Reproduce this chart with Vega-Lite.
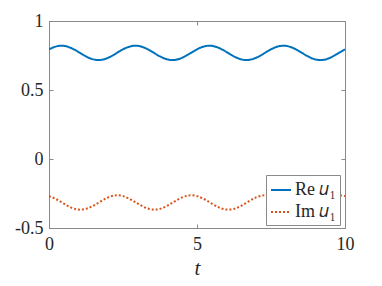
{
  "$schema": "https://vega.github.io/schema/vega-lite/v6.json",
  "autosize": "none",
  "width": 296,
  "height": 207,
  "padding": {"left": 49, "top": 21, "right": 37, "bottom": 58},
  "background": "white",
  "config": {
    "view": {"stroke": "#8a8a8a", "strokeWidth": 1},
    "axis": {
      "domainColor": "#8a8a8a",
      "tickColor": "#8a8a8a",
      "tickSize": -4,
      "grid": false,
      "labelFont": "Liberation Serif",
      "labelFontSize": 18,
      "labelColor": "#262626",
      "titleFont": "Liberation Serif",
      "titleColor": "#262626"
    }
  },
  "data": {
    "values": [
      {"t": 0, "v": 0.7946, "s": "Re 𝑢₁"}, {"t": 0.25, "v": 0.8163, "s": "Re 𝑢₁"}, {"t": 0.5, "v": 0.82, "s": "Re 𝑢₁"}, {"t": 0.75, "v": 0.8041, "s": "Re 𝑢₁"}, {"t": 1, "v": 0.7749, "s": "Re 𝑢₁"}, {"t": 1.25, "v": 0.7434, "s": "Re 𝑢₁"}, {"t": 1.5, "v": 0.7217, "s": "Re 𝑢₁"}, {"t": 1.75, "v": 0.718, "s": "Re 𝑢₁"}, {"t": 2, "v": 0.7339, "s": "Re 𝑢₁"}, {"t": 2.25, "v": 0.7631, "s": "Re 𝑢₁"},
      {"t": 2.5, "v": 0.7946, "s": "Re 𝑢₁"}, {"t": 2.75, "v": 0.8163, "s": "Re 𝑢₁"}, {"t": 3, "v": 0.82, "s": "Re 𝑢₁"}, {"t": 3.25, "v": 0.8041, "s": "Re 𝑢₁"}, {"t": 3.5, "v": 0.7749, "s": "Re 𝑢₁"}, {"t": 3.75, "v": 0.7434, "s": "Re 𝑢₁"}, {"t": 4, "v": 0.7217, "s": "Re 𝑢₁"}, {"t": 4.25, "v": 0.718, "s": "Re 𝑢₁"}, {"t": 4.5, "v": 0.7339, "s": "Re 𝑢₁"}, {"t": 4.75, "v": 0.7631, "s": "Re 𝑢₁"},
      {"t": 5, "v": 0.7946, "s": "Re 𝑢₁"}, {"t": 5.25, "v": 0.8163, "s": "Re 𝑢₁"}, {"t": 5.5, "v": 0.82, "s": "Re 𝑢₁"}, {"t": 5.75, "v": 0.8041, "s": "Re 𝑢₁"}, {"t": 6, "v": 0.7749, "s": "Re 𝑢₁"}, {"t": 6.25, "v": 0.7434, "s": "Re 𝑢₁"}, {"t": 6.5, "v": 0.7217, "s": "Re 𝑢₁"}, {"t": 6.75, "v": 0.718, "s": "Re 𝑢₁"}, {"t": 7, "v": 0.7339, "s": "Re 𝑢₁"}, {"t": 7.25, "v": 0.7631, "s": "Re 𝑢₁"},
      {"t": 7.5, "v": 0.7946, "s": "Re 𝑢₁"}, {"t": 7.75, "v": 0.8163, "s": "Re 𝑢₁"}, {"t": 8, "v": 0.82, "s": "Re 𝑢₁"}, {"t": 8.25, "v": 0.8041, "s": "Re 𝑢₁"}, {"t": 8.5, "v": 0.7749, "s": "Re 𝑢₁"}, {"t": 8.75, "v": 0.7434, "s": "Re 𝑢₁"}, {"t": 9, "v": 0.7217, "s": "Re 𝑢₁"}, {"t": 9.25, "v": 0.718, "s": "Re 𝑢₁"}, {"t": 9.5, "v": 0.7339, "s": "Re 𝑢₁"}, {"t": 9.75, "v": 0.7631, "s": "Re 𝑢₁"},
      {"t": 10, "v": 0.7946, "s": "Re 𝑢₁"},
      {"t": 0, "v": -0.2688, "s": "Im 𝑢₁"}, {"t": 0.25, "v": -0.2917, "s": "Im 𝑢₁"}, {"t": 0.5, "v": -0.3235, "s": "Im 𝑢₁"}, {"t": 0.75, "v": -0.352, "s": "Im 𝑢₁"}, {"t": 1, "v": -0.3664, "s": "Im 𝑢₁"}, {"t": 1.25, "v": -0.3612, "s": "Im 𝑢₁"}, {"t": 1.5, "v": -0.3383, "s": "Im 𝑢₁"}, {"t": 1.75, "v": -0.3065, "s": "Im 𝑢₁"}, {"t": 2, "v": -0.278, "s": "Im 𝑢₁"}, {"t": 2.25, "v": -0.2636, "s": "Im 𝑢₁"},
      {"t": 2.5, "v": -0.2688, "s": "Im 𝑢₁"}, {"t": 2.75, "v": -0.2917, "s": "Im 𝑢₁"}, {"t": 3, "v": -0.3235, "s": "Im 𝑢₁"}, {"t": 3.25, "v": -0.352, "s": "Im 𝑢₁"}, {"t": 3.5, "v": -0.3664, "s": "Im 𝑢₁"}, {"t": 3.75, "v": -0.3612, "s": "Im 𝑢₁"}, {"t": 4, "v": -0.3383, "s": "Im 𝑢₁"}, {"t": 4.25, "v": -0.3065, "s": "Im 𝑢₁"}, {"t": 4.5, "v": -0.278, "s": "Im 𝑢₁"}, {"t": 4.75, "v": -0.2636, "s": "Im 𝑢₁"},
      {"t": 5, "v": -0.2688, "s": "Im 𝑢₁"}, {"t": 5.25, "v": -0.2917, "s": "Im 𝑢₁"}, {"t": 5.5, "v": -0.3235, "s": "Im 𝑢₁"}, {"t": 5.75, "v": -0.352, "s": "Im 𝑢₁"}, {"t": 6, "v": -0.3664, "s": "Im 𝑢₁"}, {"t": 6.25, "v": -0.3612, "s": "Im 𝑢₁"}, {"t": 6.5, "v": -0.3383, "s": "Im 𝑢₁"}, {"t": 6.75, "v": -0.3065, "s": "Im 𝑢₁"}, {"t": 7, "v": -0.278, "s": "Im 𝑢₁"}, {"t": 7.25, "v": -0.2636, "s": "Im 𝑢₁"},
      {"t": 7.5, "v": -0.2688, "s": "Im 𝑢₁"}, {"t": 7.75, "v": -0.2917, "s": "Im 𝑢₁"}, {"t": 8, "v": -0.3235, "s": "Im 𝑢₁"}, {"t": 8.25, "v": -0.352, "s": "Im 𝑢₁"}, {"t": 8.5, "v": -0.3664, "s": "Im 𝑢₁"}, {"t": 8.75, "v": -0.3612, "s": "Im 𝑢₁"}, {"t": 9, "v": -0.3383, "s": "Im 𝑢₁"}, {"t": 9.25, "v": -0.3065, "s": "Im 𝑢₁"}, {"t": 9.5, "v": -0.278, "s": "Im 𝑢₁"}, {"t": 9.75, "v": -0.2636, "s": "Im 𝑢₁"},
      {"t": 10, "v": -0.2688, "s": "Im 𝑢₁"}
    ]
  },
  "layer": [
    {
      "mark": {"type": "line", "interpolate": "natural", "strokeWidth": 2, "clip": true},
      "encoding": {
        "x": {
          "field": "t", "type": "quantitative",
          "scale": {"domain": [0, 10], "nice": false},
          "axis": {"values": [0, 5, 10], "title": "t", "titleFontStyle": "italic", "titleFontWeight": "normal", "titleFontSize": 21, "titlePadding": 4, "labelPadding": 11, "labelFlush": false}
        },
        "y": {
          "field": "v", "type": "quantitative",
          "scale": {"domain": [-0.5, 1], "nice": false, "zero": false},
          "axis": {"values": [-0.5, 0, 0.5, 1], "title": null, "labelExpr": "'' + datum.value", "labelPadding": 10, "labelFlush": false}
        },
        "color": {
          "field": "s", "type": "nominal",
          "scale": {"domain": ["Re 𝑢₁", "Im 𝑢₁"], "range": ["#0072BD", "#D95319"]},
          "legend": {
            "title": null, "orient": "none", "legendX": 217, "legendY": 154,
            "symbolType": "stroke", "symbolSize": 400, "symbolStrokeWidth": 2,
            "labelFont": "Liberation Serif", "labelFontSize": 18, "labelColor": "#262626",
            "strokeColor": "#8a8a8a", "fillColor": "white", "padding": 4, "rowPadding": 2,
            "labelOffset": 3
          }
        },
        "strokeDash": {
          "field": "s", "type": "nominal",
          "scale": {"domain": ["Re 𝑢₁", "Im 𝑢₁"], "range": [[1, 0], [2, 2]]},
          "legend": null
        }
      }
    },
    {
      "mark": {"type": "line", "opacity": 0},
      "encoding": {
        "x": {"field": "t", "type": "quantitative", "axis": {"orient": "top", "values": [0, 5, 10], "labels": false, "title": null, "domain": false}},
        "y": {"field": "v", "type": "quantitative", "axis": {"orient": "right", "values": [-0.5, 0, 0.5, 1], "labels": false, "title": null, "domain": false}},
        "detail": {"field": "s", "type": "nominal"}
      }
    }
  ],
  "resolve": {"axis": {"x": "independent", "y": "independent"}}
}
